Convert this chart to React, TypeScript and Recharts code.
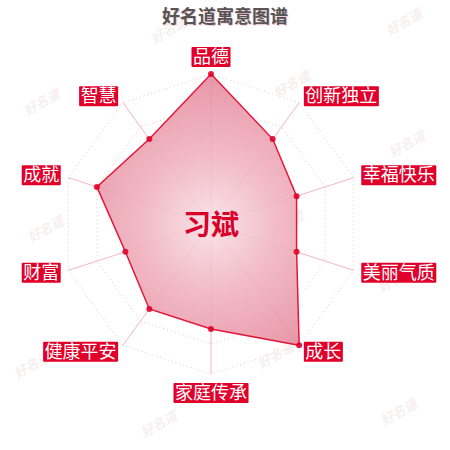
import { RadarChart, PolarGrid, PolarAngleAxis, PolarRadiusAxis, Radar } from 'recharts';

const categories = ['品德', '创新独立', '幸福快乐', '美丽气质', '成长', '家庭传承', '健康平安', '财富', '成就', '智慧'];
const scores = [100, 70, 60, 60, 100, 70, 70, 60, 80, 70];
const ringLevels = [30, 60, 90, 120, 150];

const chartData = categories.map((name, i) => ({ name, score: scores[i] }));

const CX = 211;
const CY = 224;
const RED = '#e1002a';

// faint "好名道" watermarks scattered over the picture
const marks = [
  [170, 28], [405, 20], [43, 100], [293, 82], [408, 142],
  [47, 227], [287, 222], [397, 277], [33, 363], [277, 353],
  [160, 422], [400, 410]
];

const LabelTick = (props: any) => {
  const { x, y, payload, textAnchor } = props;
  const text = String(payload.value);
  const w = text.length * 18 + 3;
  const h = 20;
  let left = x;
  if (textAnchor === 'end') left = x - w;
  if (textAnchor === 'middle') left = x - w / 2;
  let top = y - h / 2;
  if (textAnchor === 'middle') top = y < CY ? y - h + 1 : y + 1;
  return (
    <g>
      <rect x={left} y={top} width={w} height={h} fill={RED} rx={1} />
      <text
        x={left + w / 2}
        y={top + h / 2 + 1}
        textAnchor="middle"
        dominantBaseline="middle"
        fill="#fff"
        fontSize={18}
      >
        {text}
      </text>
    </g>
  );
};

export default function App() {
  return (
    <div
      style={{
        position: 'absolute',
        left: 0,
        top: 0,
        width: 450,
        height: 450,
        background: '#fff',
        overflow: 'hidden',
        fontFamily: '"Noto Sans CJK SC", "Noto Sans", sans-serif'
      }}
    >
      {marks.map(([mx, my], i) => (
        <div
          key={i}
          style={{
            position: 'absolute',
            left: mx - 21,
            top: my - 8,
            fontSize: 13,
            fontStyle: 'italic',
            fontWeight: 'bold',
            color: 'rgba(225, 200, 204, 0.3)',
            transform: 'rotate(-30deg)',
            whiteSpace: 'nowrap'
          }}
        >
          好名道
        </div>
      ))}
      <div
        style={{
          position: 'absolute',
          left: 0,
          top: 2,
          width: 450,
          textAlign: 'center',
          fontSize: 18,
          fontWeight: 'bold',
          color: '#555',
          textShadow: '1px 1px 0 rgba(230,150,165,0.5)'
        }}
      >
        好名道寓意图谱
      </div>
      <div style={{ position: 'absolute', left: 0, top: 0 }}>
        <RadarChart width={450} height={450} cx={CX} cy={CY} outerRadius={150} data={chartData}>
          <defs>
            <radialGradient id="scoreFill" gradientUnits="userSpaceOnUse" cx={CX} cy={CY} r={150}>
              <stop offset="0%" stopColor="#f8e0e5" />
              <stop offset="45%" stopColor="#f0b2bf" />
              <stop offset="100%" stopColor="#e5889b" />
            </radialGradient>
          </defs>
          <PolarGrid
            gridType="polygon"
            radialLines={false}
            polarRadius={ringLevels}
            stroke="#e8c4cb"
            strokeDasharray="1 3"
          />
          <PolarGrid gridType="polygon" polarRadius={[0]} stroke="#f2b6c2" strokeWidth={1} />
          <PolarRadiusAxis domain={[0, 100]} tick={false} axisLine={false} />
          <PolarAngleAxis dataKey="name" tick={<LabelTick />} tickLine={false} axisLine={false} />
          <Radar
            dataKey="score"
            stroke="#e3173a"
            strokeWidth={1.5}
            fill="url(#scoreFill)"
            fillOpacity={0.88}
            dot={{ r: 3, fill: RED, stroke: 'none' }}
            isAnimationActive={false}
          />
        </RadarChart>
      </div>
      <div
        style={{
          position: 'absolute',
          left: CX - 60,
          top: CY - 20,
          width: 120,
          textAlign: 'center',
          fontSize: 28,
          lineHeight: '38px',
          fontWeight: 'bold',
          color: '#d8002a'
        }}
      >
        习斌
      </div>
    </div>
  );
}
